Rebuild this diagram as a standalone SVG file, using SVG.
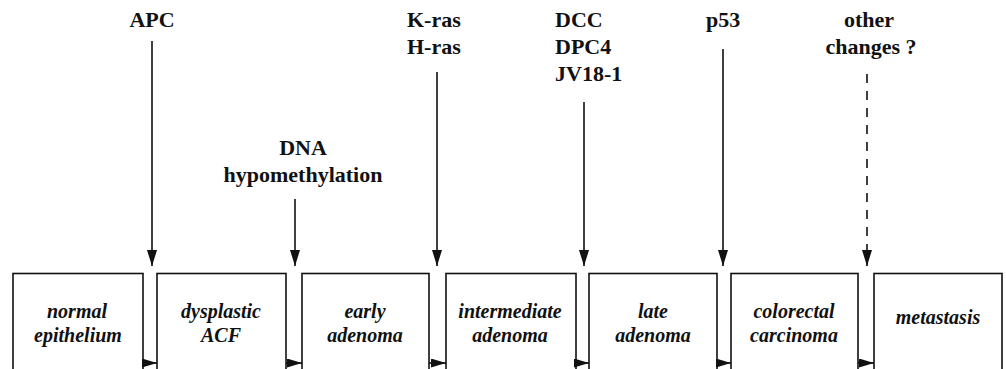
<svg xmlns="http://www.w3.org/2000/svg" width="1006" height="369" viewBox="0 0 1006 369">
  <style>
    .lbl { font-family: "Liberation Serif", "Times New Roman", serif; font-weight: bold; font-size: 22px; fill: #111; }
    .box { fill: #fff; stroke: #111; stroke-width: 1.6; }
    .btx { font-family: "Liberation Serif", "Times New Roman", serif; font-weight: bold; font-style: italic; font-size: 20px; fill: #111; text-anchor: middle; }
    .arr { stroke: #111; stroke-width: 1.6; fill: none; }
  </style>
  <defs>
    <marker id="ah" viewBox="0 0 16 10" refX="16" refY="5" markerWidth="16" markerHeight="10" orient="auto" markerUnits="userSpaceOnUse">
      <path d="M0,0 L16,5 L0,10 z" fill="#111"/>
    </marker>
    <marker id="ah2" viewBox="0 0 15 9" refX="15" refY="4.5" markerWidth="15" markerHeight="9" orient="auto" markerUnits="userSpaceOnUse">
      <path d="M0,0 L15,4.5 L0,9 z" fill="#111"/>
    </marker>
  </defs>
  <rect width="1006" height="369" fill="#fff"/>

  <g id="n1"><rect class="box" x="13" y="273.5" width="130" height="110"/>
    <text class="btx" x="77" y="318">normal</text><text class="btx" x="78" y="342">epithelium</text></g>
  <g id="n2"><rect class="box" x="157" y="273.5" width="129" height="110"/>
    <text class="btx" x="221" y="318">dysplastic</text><text class="btx" x="221" y="342">ACF</text></g>
  <g id="n3"><rect class="box" x="302" y="273.5" width="127" height="110"/>
    <text class="btx" x="365" y="318">early</text><text class="btx" x="365" y="342">adenoma</text></g>
  <g id="n4"><rect class="box" x="446" y="273.5" width="130" height="110"/>
    <text class="btx" x="510" y="318">intermediate</text><text class="btx" x="510" y="342">adenoma</text></g>
  <g id="n5"><rect class="box" x="589" y="273.5" width="128" height="110"/>
    <text class="btx" x="653" y="318">late</text><text class="btx" x="653" y="342">adenoma</text></g>
  <g id="n6"><rect class="box" x="731" y="273.5" width="127" height="110"/>
    <text class="btx" x="794" y="318">colorectal</text><text class="btx" x="794" y="342">carcinoma</text></g>
  <g id="n7"><rect class="box" x="874" y="273.5" width="128" height="110"/>
    <text class="btx" x="938" y="324">metastasis</text></g>

  <g id="labels">
    <text class="lbl" x="152" y="27" text-anchor="middle">APC</text>
    <text class="lbl" x="303" y="155" text-anchor="middle">DNA</text>
    <text class="lbl" x="303" y="182" text-anchor="middle">hypomethylation</text>
    <text class="lbl" x="407" y="27">K-ras</text>
    <text class="lbl" x="407" y="54">H-ras</text>
    <text class="lbl" x="555" y="27">DCC</text>
    <text class="lbl" x="555" y="54">DPC4</text>
    <text class="lbl" x="555" y="81">JV18-1</text>
    <text class="lbl" x="706" y="27">p53</text>
    <text class="lbl" x="869" y="27" text-anchor="middle">other</text>
    <text class="lbl" x="871" y="54" text-anchor="middle">changes ?</text>
  </g>

  <g id="connectors">
    <line class="arr" x1="152" y1="41" x2="152" y2="266" marker-end="url(#ah)"/>
    <line class="arr" x1="295" y1="199" x2="295" y2="266" marker-end="url(#ah)"/>
    <line class="arr" x1="437" y1="72" x2="437" y2="266" marker-end="url(#ah)"/>
    <line class="arr" x1="584" y1="102" x2="584" y2="266" marker-end="url(#ah)"/>
    <line class="arr" x1="723" y1="49" x2="723" y2="266" marker-end="url(#ah)"/>
    <line class="arr" x1="867" y1="74" x2="867" y2="266" stroke-dasharray="9 8" marker-end="url(#ah)"/>
    <line class="arr" x1="143" y1="363" x2="157" y2="363" marker-end="url(#ah2)"/>
    <line class="arr" x1="286" y1="363" x2="302" y2="363" marker-end="url(#ah2)"/>
    <line class="arr" x1="429" y1="363" x2="446" y2="363" marker-end="url(#ah2)"/>
    <line class="arr" x1="576" y1="363" x2="589" y2="363" marker-end="url(#ah2)"/>
    <line class="arr" x1="717" y1="363" x2="731" y2="363" marker-end="url(#ah2)"/>
    <line class="arr" x1="858" y1="363" x2="874" y2="363" marker-end="url(#ah2)"/>
  </g>
</svg>
